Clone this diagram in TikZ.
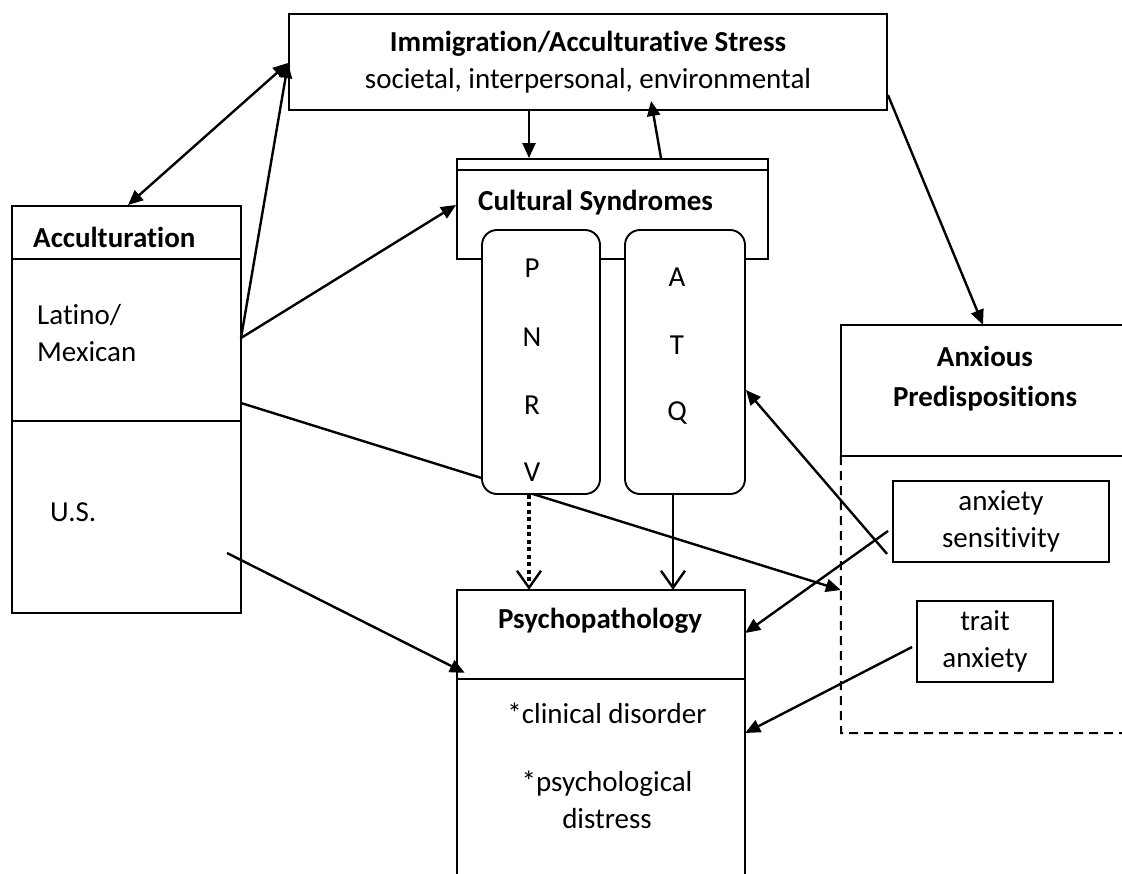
\documentclass[tikz,border=0pt]{standalone}
\usepackage{fontspec}
\setmainfont{Carlito}[Ligatures=NoCommon]
\usetikzlibrary{arrows.meta,calc}
\begin{document}
\begin{tikzpicture}[x=1pt,y=-1pt,
  boxline/.style={line width=1.9pt},
  box/.style={draw, boxline, inner sep=0pt},
  lbl/.style={font=\fontsize{29}{37}\selectfont, inner sep=0pt, align=center},
  blbl/.style={font=\fontsize{29}{40}\selectfont\bfseries, inner sep=0pt, align=center},
  tri/.tip={Triangle[length=15pt,width=13pt]},
  arr/.style={line width=2.4pt, -tri},
  openarr/.style={line width=2pt, -{Straight Barb[length=17pt,width=24pt,line width=2.4pt]}},
  dotarr/.style={openarr, line width=4pt, dash pattern=on 4pt off 3.5pt},
  dashline/.style={line width=2pt, dash pattern=on 9pt off 6pt}
]
\useasboundingbox (0,0) rectangle (1122,873);

% ---------- boxes ----------
\node[box, minimum width=598pt, minimum height=96pt] (stress) at (588,62) {};
\node[blbl] (stresst) at (588,44) {Immigration/Acculturative Stress};
\node[lbl] (stresss) at (588,81) {societal, interpersonal, environmental};

\node[box, minimum width=229pt, minimum height=407pt] (acc) at (126.5,409.5) {};
\draw[boxline] ($(acc.north west)+(0,-54pt)$) -- ($(acc.north east)+(0,-54pt)$);
\draw[boxline] ($(acc.north west)+(0,-216pt)$) -- ($(acc.north east)+(0,-216pt)$);
\node[blbl, anchor=west] (acct) at (33,237) {Acculturation};
\node[lbl, anchor=west, align=left] (latino) at (37,333) {Latino/\\Mexican};
\node[lbl, anchor=west] (us) at (50,512) {U.S.};

\node[box, minimum width=311pt, minimum height=100pt] (cs) at (612.5,209) {};
\draw[boxline] ($(cs.north west)+(0,-12pt)$) -- ($(cs.north east)+(0,-12pt)$);
\node[blbl, anchor=west] (cst) at (478,203) {Cultural Syndromes};

% psychopathology (open at the bottom)
\node[minimum width=288pt, minimum height=290pt, inner sep=0pt] (psy) at (601,735) {};
\draw[boxline] (psy.south west) -- (psy.north west) -- (psy.north east) -- (psy.south east);
\draw[boxline] ($(psy.north west)+(0,-89pt)$) -- ($(psy.north east)+(0,-89pt)$);
\node[blbl] (psyt) at (600,621) {Psychopathology};
\node[lbl] (psy1) at (607,713) {*clinical disorder};
\node[lbl] (psy2) at (607,800) {*psychological\\distress};

% anxious predispositions (runs off the right edge)
\node[minimum width=289pt, minimum height=131pt, inner sep=0pt] (ap) at (985.5,390.5) {};
\draw[boxline] (ap.north east) -- (ap.north west) -- (ap.south west) -- (ap.south east);
\node[blbl] (apt) at (985,379) {Anxious\\Predispositions};
\coordinate (dashc) at (841,733);
\coordinate (dashe) at (1130,733);
\draw[dashline] (ap.south west) -- (dashc) -- (dashe);

\node[box, lbl, minimum width=216pt, minimum height=81pt] (as) at (1001,521.5) {anxiety\\sensitivity};
\node[box, lbl, minimum width=136pt, minimum height=81pt] (trait) at (985,641.5) {trait\\anxiety};

% ---------- connectors behind the syndrome boxes ----------
\coordinate (lat1) at (241,338);
\coordinate (lat2) at (241,403);
\coordinate (usp) at (227,553);
\draw[arr] (lat2) -- (ap.south west |- 0,590);

% syndrome boxes
\node[box, fill=white, rounded corners=15pt, minimum width=118pt, minimum height=264pt] (pnrv) at (541,362) {};
\node[box, fill=white, rounded corners=15pt, minimum width=120pt, minimum height=264pt] (atq) at (685,362) {};
\node[lbl] (p) at (532,268) {P};
\node[lbl] (n) at (532,337) {N};
\node[lbl] (r) at (532,405) {R};
\node[lbl] (v) at (532,472) {V};
\node[lbl] (a) at (677,277) {A};
\node[lbl] (t) at (677,345) {T};
\node[lbl] (q) at (677,413) {Q};

% ---------- other connectors ----------
\draw[line width=2.4pt, tri-tri] (acc.north west -| 128,0) -- (stress.west |- 0,63);
\draw[arr] (lat1) -- (stress.west |- 0,63);
\draw[arr] (lat1) -- (cs.west |- 0,205);
\draw[arr] (529,0 |- stress.south) -- (529,0 |- cs.north);
\draw[arr] (661,0 |- cs.north) -- ($(stress.south west)+(363pt,10pt)$);
\draw[arr] (stress.east |- 0,95) -- (983,0 |- ap.north);
\draw[arr] (usp) -- ($(psy.north west)+(8pt,-83pt)$);
\draw[dotarr] (529,0 |- pnrv.south) -- (529,0 |- psy.north);
\draw[openarr] (673,0 |- atq.south) -- (673,0 |- psy.north);
\draw[arr] ($(as.south west)+(-5pt,9pt)$) -- (atq.east |- 0,390);
\draw[arr] ($(as.south west)+(-4pt,32pt)$) -- (psy.east |- 0,633);
\draw[arr] ($(trait.west)+(-4pt,-5.5pt)$) -- (psy.east |- 0,733);
\end{tikzpicture}
\end{document}
